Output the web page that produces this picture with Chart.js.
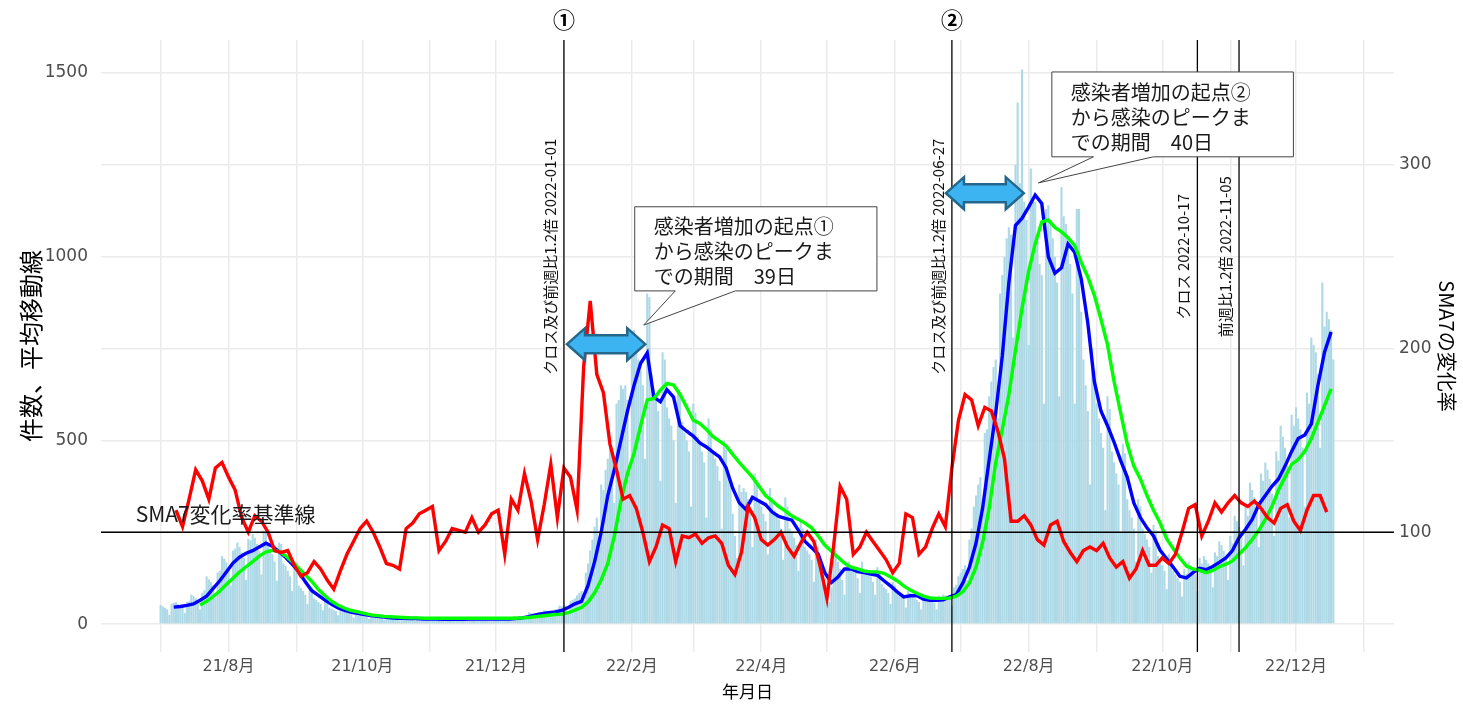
<!DOCTYPE html>
<html lang="ja">
<head>
<meta charset="utf-8">
<title>感染者数と移動平均線</title>
<script src="https://cdn.jsdelivr.net/npm/chart.js@4.4.1/dist/chart.umd.min.js"></script>
<style>
  html, body { margin: 0; padding: 0; background: #fff; }
  #wrap { width: 1463px; height: 704px; }
</style>
</head>
<body>
<div id="wrap"><canvas id="chart" width="1463" height="704"></canvas></div>
<script>
// 日別の新規感染者数 (2021-07-01 から1日ずつ、1行=1週間)
const dailyCases = [
  52, 48, 44, 40, 25, 55, 58,
  60, 55, 50, 48, 30, 60, 62,
  80, 76, 70, 62, 40, 85, 92,
  130, 122, 115, 105, 70, 140, 145,
  185, 178, 168, 150, 105, 200, 205,
  222, 210, 195, 180, 120, 232, 228,
  245, 235, 218, 200, 135, 255, 250,
  215, 205, 190, 170, 118, 222, 218,
  165, 158, 145, 130, 90, 170, 168,
  105, 98, 90, 80, 55, 104, 100,
  70, 66, 60, 55, 38, 72, 70,
  45, 42, 38, 35, 24, 45, 44,
  33, 31, 28, 26, 18, 34, 33,
  25, 24, 21, 20, 14, 26, 25,
  21, 19, 18, 16, 11, 21, 20,
  18, 17, 16, 14, 10, 19, 18,
  17, 16, 15, 13, 9, 18, 17,
  16, 15, 14, 12, 9, 17, 15,
  15, 14, 13, 11, 8, 15, 15,
  15, 14, 13, 11, 8, 15, 15,
  16, 15, 14, 12, 9, 17, 15,
  16, 15, 14, 12, 9, 16, 16,
  16, 15, 14, 12, 9, 17, 15,
  21, 20, 19, 17, 12, 22, 22,
  32, 30, 28, 25, 17, 33, 31,
  38, 36, 34, 30, 21, 40, 39,
  50, 48, 52, 50, 35, 62, 66,
  70, 78, 85, 90, 72, 140, 165,
  200, 230, 265, 290, 230, 380, 365,
  420, 450, 480, 470, 330, 600, 610,
  650, 640, 650, 610, 420, 780, 800,
  740, 720, 690, 650, 450, 900, 890,
  680, 640, 620, 580, 390, 740, 720,
  590, 560, 540, 500, 330, 640, 620,
  550, 520, 500, 470, 320, 600, 575,
  510, 490, 470, 440, 290, 560, 530,
  470, 450, 430, 390, 260, 500, 475,
  400, 380, 300, 240, 180, 380, 360,
  370, 360, 340, 310, 210, 410, 380,
  330, 320, 300, 280, 190, 370, 345,
  310, 300, 285, 260, 175, 345, 320,
  260, 250, 235, 215, 145, 280, 260,
  210, 200, 190, 175, 115, 230, 210,
  150, 110, 90, 70, 60, 100, 225,
  200, 170, 150, 120, 80, 160, 170,
  160, 150, 140, 125, 85, 170, 150,
  150, 140, 130, 115, 80, 155, 140,
  110, 100, 95, 85, 55, 115, 105,
  90, 82, 77, 70, 45, 90, 85,
  76, 70, 66, 60, 40, 78, 72,
  75, 70, 65, 58, 40, 77, 70,
  80, 78, 75, 70, 50, 100, 107,
  130, 140, 150, 160, 120, 230, 260,
  320, 350, 380, 400, 300, 520, 530,
  620, 660, 700, 720, 560, 900, 950,
  1000, 1050, 1080, 1060, 780, 1250, 1420,
  1200, 1510, 1150, 1100, 760, 1240, 1160,
  1150, 1050, 980, 950, 600, 1130, 1140,
  1100, 1050, 1000, 930, 620, 1190, 1110,
  1090, 1030, 980, 900, 600, 1130, 1130,
  850, 720, 650, 580, 380, 750, 690,
  600, 560, 520, 480, 310, 620, 585,
  470, 440, 410, 380, 250, 490, 465,
  340, 310, 290, 260, 170, 340, 320,
  260, 245, 230, 210, 140, 270, 255,
  185, 170, 160, 145, 95, 190, 175,
  145, 135, 125, 115, 75, 150, 137,
  170, 160, 150, 135, 90, 180, 165,
  185, 175, 165, 150, 100, 195, 185,
  225, 215, 200, 180, 120, 240, 220,
  295, 280, 265, 240, 160, 320, 295,
  385, 365, 345, 310, 210, 410, 390,
  440, 420, 395, 355, 240, 470, 445,
  540, 510, 480, 430, 290, 570, 540,
  590, 560, 530, 480, 320, 630, 600,
  780, 760, 740, 680, 480, 930, 810,
  850, 830, 800, 720
];

// 移動平均と変化率は3日おきに読んだ値
const lineStep = 3;

// 7日移動平均 (6日目から)
const sma7Start = 6;
const sma7 = [
  46, 48, 51, 55, 65, 76, 97, 118, 142, 166,
  182, 193, 200, 210, 220, 212, 197, 182, 163, 143,
  115, 91, 78, 65, 54, 44, 37, 32, 29, 26,
  23, 21, 19, 17, 16, 16, 15, 15, 14, 14,
  14, 13, 13, 13, 13, 14, 14, 14, 14, 14,
  14, 14, 15, 17, 20, 25, 28, 31, 33, 37,
  45, 55, 62, 105, 170, 250, 350, 420, 500, 580,
  650, 710, 738, 618, 605, 638, 618, 540, 525, 512,
  493, 482, 468, 455, 425, 370, 330, 312, 345, 335,
  325, 305, 293, 288, 283, 255, 225, 208, 190, 140,
  113, 128, 150, 150, 143, 140, 136, 133, 118, 104,
  88, 74, 77, 78, 68, 65, 65, 66, 74, 80,
  112, 155, 220, 315, 447, 575, 730, 930, 1085, 1105,
  1135, 1168, 1145, 1000, 955, 970, 1035, 1012, 940, 820,
  660, 580, 540, 495, 445, 400, 330, 290, 262, 240,
  201, 178, 155, 130, 126, 140, 152, 148, 157, 168,
  180, 200, 235, 258, 285, 325, 350, 375, 395, 430,
  470, 505, 515, 545, 650, 740, 795
];

// 長期移動平均 (18日目から)
const smaLongStart = 18;
const smaLong = [
  52, 62, 75, 90, 108, 125, 142, 156, 170, 185,
  196, 201, 198, 186, 170, 152, 134, 116, 94, 77,
  62, 51, 43, 37, 33, 29, 25, 23, 21, 20,
  19, 18, 17, 17, 16, 16, 16, 16, 16, 16,
  16, 16, 16, 16, 16, 16, 16, 16, 16, 17,
  18, 20, 22, 24, 26, 27, 31, 38, 45, 60,
  85, 120, 165, 240, 335, 410, 465, 540, 610, 614,
  637, 655, 651, 625, 590, 555, 546, 530, 510, 498,
  485, 462, 440, 420, 400, 375, 350, 335, 320, 308,
  294, 285, 275, 262, 240, 215, 198, 182, 166, 155,
  150, 144, 142, 142, 138, 128, 118, 104, 93, 84,
  76, 71, 70, 70, 71, 76, 88, 112, 155, 222,
  315, 440, 530, 625, 745, 860, 960, 1035, 1095, 1100,
  1080, 1068, 1052, 1030, 985, 945, 895, 830, 760, 660,
  575, 490, 430, 395, 350, 310, 275, 232, 205, 180,
  158, 150, 146, 140, 146, 156, 163, 172, 190, 208,
  230, 255, 285, 320, 365, 400, 435, 448, 470, 505,
  550, 595, 640
];

// SMA7の変化率 % (7日目から、右軸)
const rateStart = 7;
const sma7Rate = [
  112, 103, 118, 134, 128, 118, 135, 138, 130, 123,
  108, 100, 109, 106, 100, 90, 89, 90, 82, 76,
  78, 84, 80, 74, 69, 79, 88, 95, 102, 106,
  100, 92, 83, 82, 80, 102, 105, 110, 112, 114,
  90, 95, 102, 101, 100, 108, 100, 104, 110, 112,
  88, 118, 112, 132, 117, 96, 115, 137, 108, 135,
  130, 112, 190, 226, 186, 176, 148, 134, 118, 120,
  113, 100, 84, 92, 104, 102, 84, 98, 97, 99,
  94, 97, 98, 94, 82, 77, 89, 114, 108, 96,
  93, 96, 100, 92, 87, 94, 100, 95, 81, 64,
  92, 125, 118, 88, 92, 100, 95, 90, 85, 78,
  83, 110, 108, 88, 92, 102, 110, 103, 135, 161,
  175, 172, 158, 168, 166, 155, 140, 106, 106, 109,
  104, 96, 93, 104, 106, 95, 89, 84, 90, 92,
  90, 94, 86, 81, 84, 75, 80, 90, 82, 82,
  86, 83, 88, 100, 113, 115, 98, 106, 116, 111,
  116, 120, 116, 114, 117, 113, 108, 105, 113, 115,
  106, 101, 112, 120, 120, 111
];

// 月ごとの目盛り (2021/7 〜 2023/1)、ラベルは隔月
const monthLabels = [
  '', '21/8月', '', '21/10月', '', '21/12月', '', '22/2月', '', '22/4月',
  '', '22/6月', '', '22/8月', '', '22/10月', '', '22/12月', ''
];

// クロス・前週比1.2倍の日付
const markerDates = ['2022-01-01', '2022-06-27', '2022-10-17', '2022-11-05'];
const markerTexts = [
  'クロス及び前週比1.2倍 2022-01-01',
  'クロス及び前週比1.2倍 2022-06-27',
  'クロス 2022-10-17',
  '前週比1.2倍 2022-11-05'
];
const markerNumbers = ['①', '②', '', ''];

// 起点からピークまでの期間 (日数, 件数軸)
const periodArrows = [
  { from: 185.4, to: 221.1, level: 762 },
  { from: 358.3, to: 393.8, level: 1173 }
];
const callouts = [
  { lines: ['感染者増加の起点①', 'から感染のピークま', 'での期間\u300039日'],
    left: 216.3, right: 326.8, top: 1136, bottom: 907, base: [234.8, 262.2], tip: [220.4, 814] },
  { lines: ['感染者増加の起点②', 'から感染のピークま', 'での期間\u300040日'],
    left: 406.6, right: 516.8, top: 1503, bottom: 1272, base: [425.6, 452.9], tip: [400.5, 1201] }
];

const origin = Date.UTC(2021, 6, 1);
const dayOf = (s) => {
  const [Y, M, D] = s.split('-').map(Number);
  return (Date.UTC(Y, M - 1, D) - origin) / 864e5;
};
const monthTicks = monthLabels.map((_, i) => (Date.UTC(2021, 6 + i, 1) - origin) / 864e5);
const series = (start, values) => values.map((v, i) => ({ x: start + i * lineStep, y: v }));

const jpFont = '"Noto Sans CJK JP", sans-serif';
Chart.defaults.font.family = jpFont;

function drawArrow(ctx, x1, x2, y) {
  const hh = 16, sh = 9, hl = 18;
  ctx.beginPath();
  ctx.moveTo(x1, y);
  ctx.lineTo(x1 + hl, y - hh);
  ctx.lineTo(x1 + hl, y - sh);
  ctx.lineTo(x2 - hl, y - sh);
  ctx.lineTo(x2 - hl, y - hh);
  ctx.lineTo(x2, y);
  ctx.lineTo(x2 - hl, y + hh);
  ctx.lineTo(x2 - hl, y + sh);
  ctx.lineTo(x1 + hl, y + sh);
  ctx.lineTo(x1 + hl, y + hh);
  ctx.closePath();
  ctx.fillStyle = '#3DB4F2';
  ctx.fill();
  ctx.lineWidth = 2.5;
  ctx.strokeStyle = '#24678A';
  ctx.stroke();
}

// 基準線、縦線、矢印、吹き出し
const overlay = {
  id: 'overlay',
  afterDatasetsDraw(chart) {
    const { ctx, chartArea: a, scales: { x, y, y2 } } = chart;
    ctx.save();

    const yRef = y2.getPixelForValue(100);
    ctx.strokeStyle = '#000';
    ctx.lineWidth = 1.3;
    ctx.beginPath();
    ctx.moveTo(a.left, yRef);
    ctx.lineTo(a.right, yRef);
    ctx.stroke();
    ctx.fillStyle = '#1a1a1a';
    ctx.font = '21px ' + jpFont;
    ctx.textAlign = 'left';
    ctx.textBaseline = 'alphabetic';
    ctx.fillText('SMA7変化率基準線', x.getPixelForValue(-11.4), yRef - 10);

    markerDates.forEach((d, i) => {
      const px = x.getPixelForValue(dayOf(d));
      ctx.strokeStyle = '#000';
      ctx.lineWidth = 1.3;
      ctx.beginPath();
      ctx.moveTo(px, a.top);
      ctx.lineTo(px, a.bottom);
      ctx.stroke();

      ctx.save();
      ctx.translate(px - 8, y.getPixelForValue(1000));
      ctx.rotate(-Math.PI / 2);
      ctx.font = '15px ' + jpFont;
      ctx.textAlign = 'center';
      ctx.textBaseline = 'alphabetic';
      ctx.fillStyle = '#111';
      ctx.fillText(markerTexts[i], 0, 0);
      ctx.restore();

      if (markerNumbers[i]) {
        ctx.font = 'bold 22px ' + jpFont;
        ctx.textAlign = 'center';
        ctx.textBaseline = 'middle';
        ctx.fillStyle = '#000';
        ctx.fillText(markerNumbers[i], px, a.top - 20);
      }
    });

    periodArrows.forEach(p => {
      drawArrow(ctx, x.getPixelForValue(p.from), x.getPixelForValue(p.to), y.getPixelForValue(p.level));
    });

    callouts.forEach(c => {
      const l = x.getPixelForValue(c.left), r = x.getPixelForValue(c.right);
      const t = y.getPixelForValue(c.top), b = y.getPixelForValue(c.bottom);
      ctx.beginPath();
      ctx.moveTo(l, t);
      ctx.lineTo(r, t);
      ctx.lineTo(r, b);
      ctx.lineTo(x.getPixelForValue(c.base[1]), b);
      ctx.lineTo(x.getPixelForValue(c.tip[0]), y.getPixelForValue(c.tip[1]));
      ctx.lineTo(x.getPixelForValue(c.base[0]), b);
      ctx.lineTo(l, b);
      ctx.closePath();
      ctx.fillStyle = '#fff';
      ctx.fill();
      ctx.lineWidth = 1;
      ctx.strokeStyle = '#444';
      ctx.stroke();

      ctx.fillStyle = '#1a1a1a';
      ctx.font = '20px ' + jpFont;
      ctx.textAlign = 'left';
      ctx.textBaseline = 'middle';
      c.lines.forEach((line, k) => ctx.fillText(line, l + 19, t + 20 + k * 25));
    });

    ctx.restore();
  }
};

const gridColor = '#EBEBEB';
const tickColor = '#4D4D4D';

new Chart(document.getElementById('chart'), {
  type: 'bar',
  data: {
    datasets: [
      {
        type: 'line', label: 'SMA7の変化率', data: series(rateStart, sma7Rate), yAxisID: 'y2',
        borderColor: '#FF0000', borderWidth: 3.4, pointRadius: 0, tension: 0, order: 1
      },
      {
        type: 'line', label: '長期移動平均', data: series(smaLongStart, smaLong), yAxisID: 'y',
        borderColor: '#00FF00', borderWidth: 3.4, pointRadius: 0, tension: 0, order: 2
      },
      {
        type: 'line', label: 'SMA7', data: series(sma7Start, sma7), yAxisID: 'y',
        borderColor: '#0000FF', borderWidth: 3.4, pointRadius: 0, tension: 0, order: 3
      },
      {
        type: 'bar', label: '件数', data: dailyCases.map((v, i) => ({ x: i, y: v })), yAxisID: 'y',
        backgroundColor: '#ADD8E6', barPercentage: 0.96, categoryPercentage: 1, order: 4
      }
    ]
  },
  options: {
    responsive: false,
    animation: false,
    devicePixelRatio: 1,
    layout: { padding: { top: 40, left: 0, right: 0, bottom: 0 } },
    plugins: { legend: { display: false }, tooltip: { enabled: false } },
    scales: {
      x: {
        type: 'linear', min: -27.2, max: 562.7, offset: false,
        grid: { color: gridColor, lineWidth: 1.5, drawTicks: false, offset: false },
        border: { display: false },
        afterBuildTicks: (s) => { s.ticks = monthTicks.map(v => ({ value: v })); },
        afterFit: (s) => { s.height = 52; },
        ticks: {
          autoSkip: false, maxRotation: 0, padding: 5, color: tickColor,
          font: { family: '"DejaVu Sans", ' + jpFont, size: 16 },
          callback: (v, i) => monthLabels[i]
        },
        title: { display: true, text: '年月日', color: '#000', font: { size: 17 }, padding: { top: 0, bottom: 2 } }
      },
      y: {
        position: 'left', min: -76, max: 1590,
        grid: { color: gridColor, lineWidth: 1.5, drawTicks: false },
        border: { display: false },
        afterBuildTicks: (s) => { s.ticks = [0, 250, 500, 750, 1000, 1250, 1500].map(v => ({ value: v })); },
        afterFit: (s) => { s.width = 101; },
        ticks: {
          padding: 13, color: tickColor,
          font: { family: '"DejaVu Sans", sans-serif', size: 17 },
          callback: (v) => (v % 500 === 0 ? v : '')
        },
        title: { display: true, text: '件数、平均移動線', color: '#000', font: { size: 24 }, padding: { top: 16, bottom: 0 } }
      },
      y2: {
        position: 'right', min: 34.8, max: 368,
        grid: { display: false, drawTicks: false },
        border: { display: false },
        afterBuildTicks: (s) => { s.ticks = [100, 200, 300].map(v => ({ value: v })); },
        afterFit: (s) => { s.width = 69; },
        ticks: {
          padding: 5, color: tickColor,
          font: { family: '"DejaVu Sans", sans-serif', size: 17 }
        },
        title: { display: true, text: 'SMA7の変化率', color: '#000', font: { size: 20 }, padding: { top: 4, bottom: 0 } }
      }
    }
  },
  plugins: [overlay]
});
</script>
</body>
</html>
